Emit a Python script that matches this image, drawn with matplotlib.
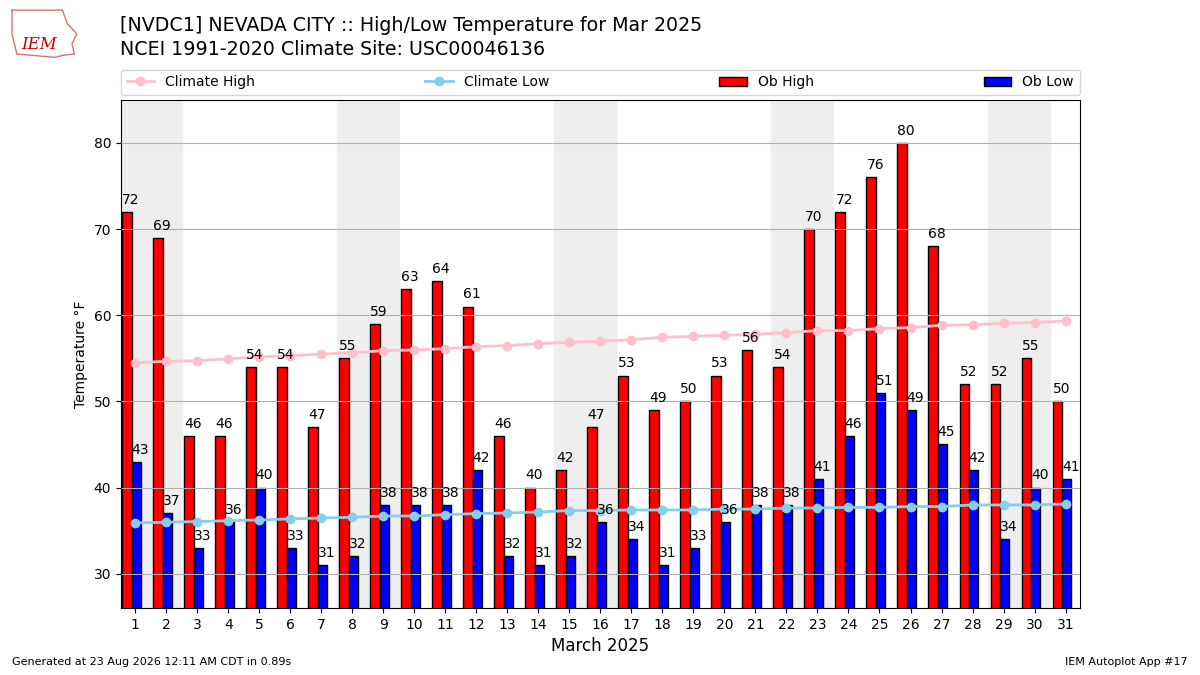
import matplotlib
matplotlib.use('Agg')
import matplotlib.pyplot as plt
import numpy as np

# observed values, March 2025
days = list(range(1, 32))
ob_high = [72, 69, 46, 46, 54, 54, 47, 55, 59, 63, 64, 61, 46, 40, 42, 47,
           53, 49, 50, 53, 56, 54, 70, 72, 76, 80, 68, 52, 52, 55, 50]
ob_low = [43, 37, 33, 36, 40, 33, 31, 32, 38, 38, 38, 42, 32, 31, 32, 36,
          34, 31, 33, 36, 38, 38, 41, 46, 51, 49, 45, 42, 34, 40, 41]

# NCEI 1991-2020 climatology
clim_high = [54.5, 54.65, 54.73, 54.93, 55.17, 55.3, 55.5, 55.64, 55.9, 55.97,
             56.13, 56.36, 56.48, 56.7, 56.86, 56.98, 57.17, 57.44, 57.56, 57.67,
             57.79, 57.99, 58.22, 58.22, 58.45, 58.57, 58.84, 58.9, 59.07, 59.15, 59.35]
clim_low = [35.9, 35.98, 36.05, 36.16, 36.24, 36.36, 36.47, 36.55, 36.7, 36.7,
            36.86, 36.98, 37.05, 37.17, 37.33, 37.33, 37.4, 37.4, 37.4, 37.5,
            37.5, 37.63, 37.63, 37.7, 37.7, 37.8, 37.8, 37.98, 37.98, 37.98, 38.1]

# saturdays -> shade the weekend
weekend_starts = [1, 8, 15, 22, 29]

fig = plt.figure(figsize=(12, 6.75), dpi=100)
ax = fig.add_axes([0.1008, 0.099, 0.7988, 0.753])

x = np.array(days)
for d in weekend_starts:
    ax.axvspan(d - 0.5, d + 1.5, color='#eeeeee', zorder=0)

width = 0.3
ax.bar(x - 0.42, ob_high, width=width, align='edge', color='r', edgecolor='k',
       label='Ob High', zorder=2)
ax.bar(x - 0.12, ob_low, width=width, align='edge', color='b', edgecolor='k',
       label='Ob Low', zorder=2)

ax.plot(x, clim_high, color='pink', marker='o', lw=2, ms=6, label='Climate High', zorder=3)
ax.plot(x, clim_low, color='skyblue', marker='o', lw=2, ms=6, label='Climate Low', zorder=3)

for xi, v in zip(x, ob_high):
    ax.text(xi - 0.42, v + 0.6, f'{v}', ha='left', va='bottom', fontsize=10, zorder=5)
for xi, v in zip(x, ob_low):
    ax.text(xi - 0.12, v + 0.6, f'{v}', ha='left', va='bottom', fontsize=10, zorder=5)

ax.set_xlim(0.54, 31.45)
ax.set_ylim(26, 85)
ax.set_xticks(days)
ax.set_xticklabels([str(d) for d in days])
ax.yaxis.grid(True, color='#b0b0b0', zorder=2.5)
ax.set_axisbelow(False)
ax.set_ylabel('Temperature \u00b0F')
ax.set_xlabel('March 2025', fontsize=12)

handles, labels = ax.get_legend_handles_labels()
want = ['Climate High', 'Climate Low', 'Ob High', 'Ob Low']
order = [labels.index(w) for w in want]
ax.legend([handles[i] for i in order], [labels[i] for i in order],
          loc='lower left', bbox_to_anchor=(0, 1.01, 1, 0.05), mode='expand',
          ncol=4, borderaxespad=0, fontsize=10)

fig.text(0.1, 0.962, '[NVDC1] NEVADA CITY :: High/Low Temperature for Mar 2025',
         fontsize=13.7, va='center')
fig.text(0.1, 0.927, 'NCEI 1991-2020 Climate Site: USC00046136', fontsize=13.7, va='center')

# logo stand-in: rough state outline plus the letters
ox = [0.010, 0.052, 0.056, 0.064, 0.060, 0.062, 0.052, 0.046, 0.014, 0.010, 0.010]
oy = [0.985, 0.985, 0.965, 0.950, 0.935, 0.920, 0.918, 0.915, 0.920, 0.950, 0.985]
fig.add_artist(plt.Line2D(ox, oy, color='#e07070', lw=1, transform=fig.transFigure))
fig.text(0.018, 0.934, 'IEM', color='#cc0000', fontsize=12, family='serif',
         style='italic', va='center')

fig.text(0.01, 0.015, 'Generated at 23 Aug 2026 12:11 AM CDT in 0.89s', fontsize=8)
fig.text(0.99, 0.015, 'IEM Autoplot App #17', fontsize=8, ha='right')

fig.savefig('out.png', dpi=100)
